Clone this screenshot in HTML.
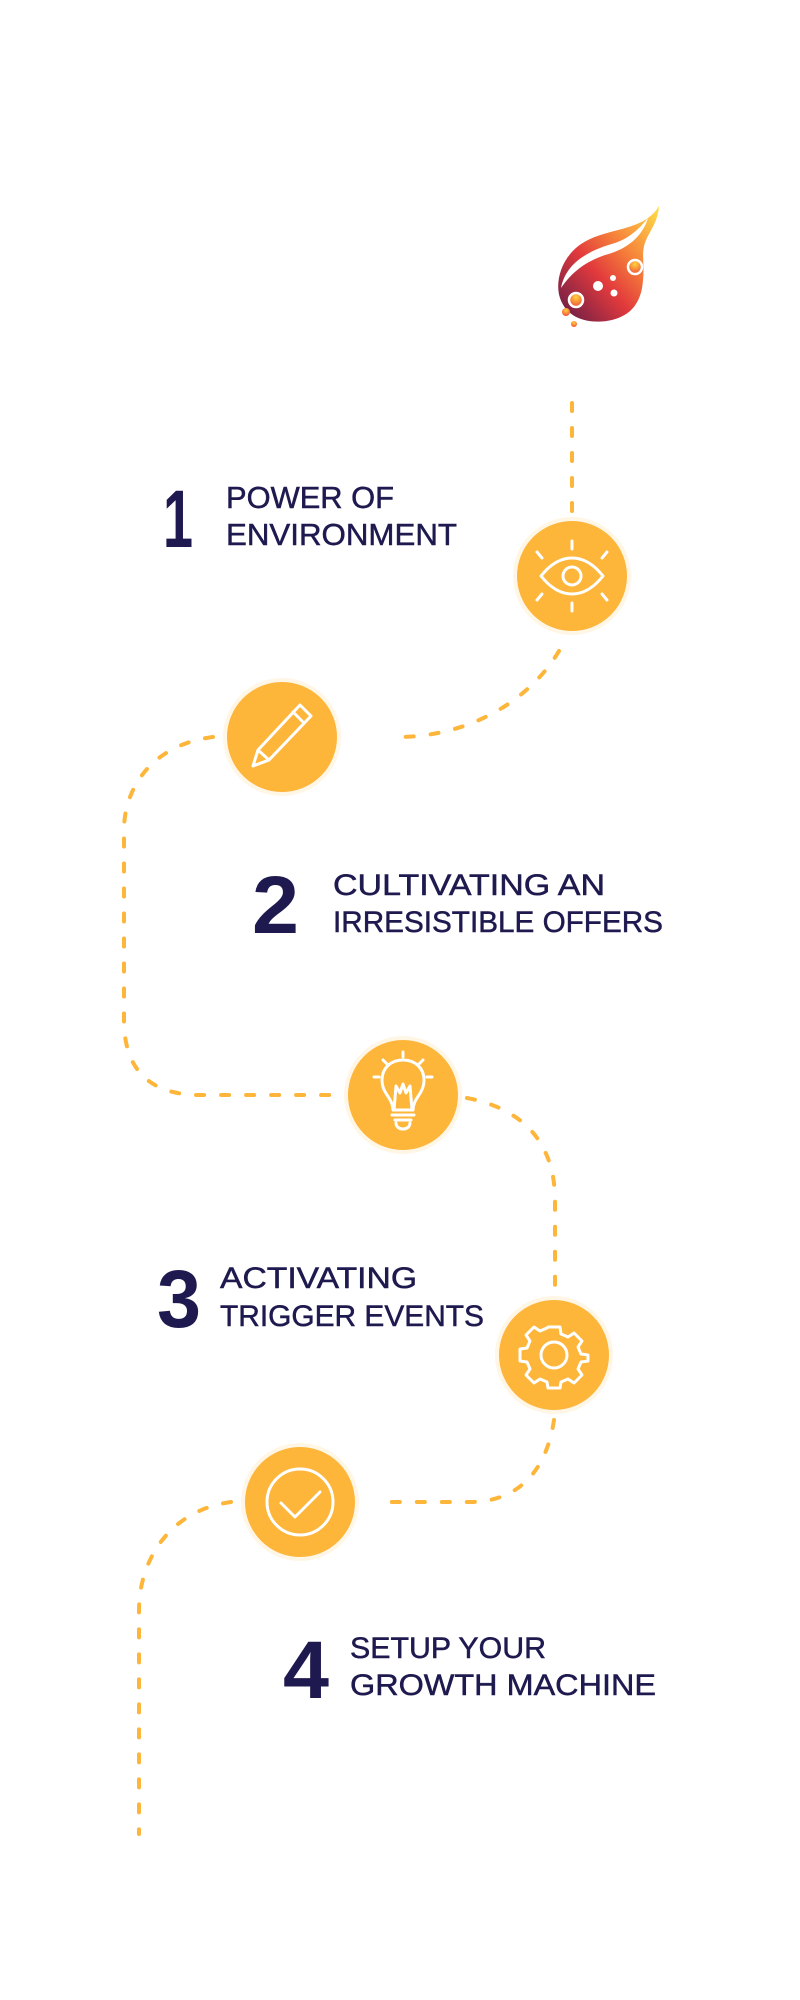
<!DOCTYPE html>
<html><head><meta charset="utf-8"><style>
html,body{margin:0;padding:0;background:#fff;}
svg{display:block;}
text{font-family:"Liberation Sans",sans-serif;fill:#1e1a4f;}
.t{stroke:#1e1a4f;stroke-width:0.5;}
</style></head><body>
<svg width="800" height="2000" viewBox="0 0 800 2000" xmlns="http://www.w3.org/2000/svg">
<defs>
<linearGradient id="fl" x1="1" y1="0" x2="0" y2="1">
<stop offset="0" stop-color="#ffe04a"/><stop offset="0.35" stop-color="#f6823a"/><stop offset="0.6" stop-color="#e23a3c"/><stop offset="1" stop-color="#5c1a48"/>
</linearGradient>
<radialGradient id="dot" cx="0.5" cy="0.3" r="0.7"><stop offset="0" stop-color="#ffd23d"/><stop offset="1" stop-color="#f2503a"/></radialGradient>
</defs>

<!-- logo -->
<path d="M659 206 C645 230,612 228,588 240 C563 252,554 280,560 298 C568 322,595 324,612 320 C636 314,642 296,643 280 C645 262,640 252,647 238 C652 228,658 220,659 206 Z" fill="url(#fl)"/>
<path d="M561 288 C566 262,590 250,615 243 C630 238,640 228,648 218 C642 238,625 250,605 255 C585 262,572 272,561 288 Z" fill="#fff"/>
<circle cx="598" cy="286" r="5" fill="#fff"/><circle cx="613" cy="278" r="3" fill="#fff"/><circle cx="614" cy="293" r="3.5" fill="#fff"/>
<circle cx="635" cy="267" r="7" fill="url(#dot)" stroke="#fff" stroke-width="2.5"/>
<circle cx="576" cy="300" r="7" fill="url(#dot)" stroke="#fff" stroke-width="2.5"/>
<circle cx="566" cy="312" r="4" fill="url(#dot)"/><circle cx="574" cy="324" r="3" fill="url(#dot)"/>

<!-- dashed path -->
<g fill="none" stroke="#fdb53a" stroke-width="4" stroke-linecap="round" stroke-dasharray="8 17">
<path d="M572 403 V512"/>
<path d="M559 651 C530 700,470 737,397 737"/>
<path d="M213 737 C150 745,124 790,124 830 V1020 C124 1070,150 1095,200 1095 H338"/>
<path d="M467 1098 C530 1110,555 1150,555 1200 V1290"/>
<path d="M554 1420 C545 1480,510 1502,470 1502 H382"/>
<path d="M231 1502 C170 1510,139 1560,139 1610 V1834"/>
</g>

<!-- circles -->
<g fill="#fdb53a" stroke="#fff6e6" stroke-width="4">
<circle cx="572" cy="576" r="57"/>
<circle cx="282" cy="737" r="57"/>
<circle cx="403" cy="1095" r="57"/>
<circle cx="554" cy="1355" r="57"/>
<circle cx="300" cy="1502" r="57"/>
</g>

<!-- icons -->
<g fill="none" stroke="#fff" stroke-width="3" stroke-linecap="round" stroke-linejoin="round">
<path d="M541 576 C560 552,584 552,603 576 C584 600,560 600,541 576 Z"/>
<circle cx="572" cy="576" r="9"/>
<path d="M572 541 V549 M572 603 V611 M537 552 L542 558 M607 552 L602 558 M537 600 L542 594 M607 600 L602 594"/>
<path d="M300 705 L311 716 L269 760 L253 766 L258 750 Z M293 712 L304 723 M258 750 L269 760"/>
<path d="M393 1110 C393 1098,382 1094,382 1080 C382 1068,391 1060,403 1060 C415 1060,424 1068,424 1080 C424 1094,413 1098,413 1110 Z"/>
<path d="M394 1110 L396 1086 L400 1093 L403 1084 L406 1093 L410 1086 L412 1110"/>
<path d="M392 1115 H414 M395 1120 H411 M396 1123 C396 1131,410 1131,410 1123"/>
<path d="M403 1052 V1057 M383 1060 L387 1064 M423 1060 L419 1064 M374 1077 H379 M427 1077 H432"/>
<circle cx="554" cy="1355" r="13"/>
<path d="M548 1327 H560 L561 1334 L568 1337 L574 1333 L582 1341 L578 1347 L581 1354 L588 1355 V1361 L581 1362 L578 1369 L582 1375 L574 1383 L568 1379 L561 1382 L560 1388 H548 L547 1382 L540 1379 L534 1383 L526 1375 L530 1369 L527 1362 L520 1361 V1349 L527 1348 L530 1341 L526 1335 L534 1327 L540 1331 L547 1328 Z"/>
<circle cx="300" cy="1502" r="33"/>
<path d="M281 1503 L295 1517 L320 1492"/>
</g>

<!-- texts -->
<text x="163" y="547" font-size="82" font-weight="bold" textLength="30" lengthAdjust="spacingAndGlyphs">1</text>
<text class="t" x="226" y="508" font-size="31" textLength="168" lengthAdjust="spacingAndGlyphs">POWER OF</text>
<text class="t" x="226" y="545" font-size="31" textLength="231" lengthAdjust="spacingAndGlyphs">ENVIRONMENT</text>

<text x="252" y="933" font-size="82" font-weight="bold" textLength="47" lengthAdjust="spacingAndGlyphs">2</text>
<text class="t" x="333" y="895" font-size="30" textLength="272" lengthAdjust="spacingAndGlyphs">CULTIVATING AN</text>
<text class="t" x="333" y="932" font-size="30" textLength="330" lengthAdjust="spacingAndGlyphs">IRRESISTIBLE OFFERS</text>

<text x="157" y="1327" font-size="82" font-weight="bold" textLength="44" lengthAdjust="spacingAndGlyphs">3</text>
<text class="t" x="220" y="1288" font-size="30" textLength="197" lengthAdjust="spacingAndGlyphs">ACTIVATING</text>
<text class="t" x="220" y="1326" font-size="30" textLength="264" lengthAdjust="spacingAndGlyphs">TRIGGER EVENTS</text>

<text x="283" y="1698" font-size="82" font-weight="bold" textLength="46" lengthAdjust="spacingAndGlyphs">4</text>
<text class="t" x="350" y="1658" font-size="30" textLength="196" lengthAdjust="spacingAndGlyphs">SETUP YOUR</text>
<text class="t" x="350" y="1695" font-size="30" textLength="306" lengthAdjust="spacingAndGlyphs">GROWTH MACHINE</text>
</svg>
</body></html>
